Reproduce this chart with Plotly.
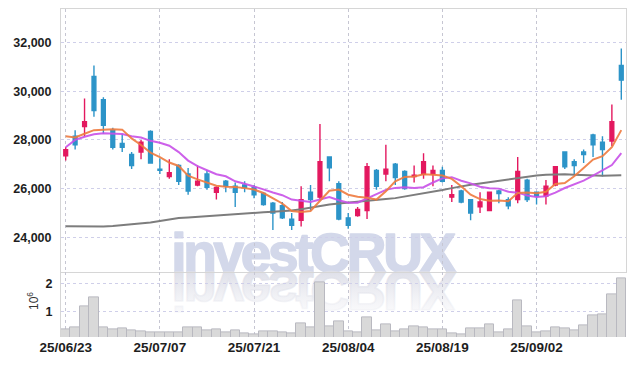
import base64
import plotly.graph_objects as go

# ---------------- data ----------------
dates = ["25/06/23", "25/06/24", "25/06/25", "25/06/26", "25/06/27", "25/06/30",
         "25/07/01", "25/07/02", "25/07/03", "25/07/04", "25/07/07", "25/07/08",
         "25/07/09", "25/07/10", "25/07/11", "25/07/14", "25/07/15", "25/07/16",
         "25/07/17", "25/07/18", "25/07/21", "25/07/22", "25/07/23", "25/07/24",
         "25/07/25", "25/07/28", "25/07/29", "25/07/30", "25/07/31", "25/08/01",
         "25/08/04", "25/08/05", "25/08/06", "25/08/07", "25/08/08", "25/08/11",
         "25/08/12", "25/08/13", "25/08/14", "25/08/18", "25/08/19", "25/08/20",
         "25/08/21", "25/08/22", "25/08/25", "25/08/26", "25/08/27", "25/08/28",
         "25/08/29", "25/09/01", "25/09/02", "25/09/03", "25/09/04", "25/09/05",
         "25/09/08", "25/09/09", "25/09/10", "25/09/11", "25/09/12", "25/09/15"]

open_ = [27350, 28150, 28550, 30600, 29650, 28400, 27850, 27400, 27500, 28350,
         26800, 26500, 26950, 26600, 26150, 26600, 25850, 26300, 26100, 26150,
         26050, 25800, 25400, 25300, 24750, 24700, 25850, 25650, 27300, 26200,
         24800, 24900, 25100, 26750, 26600, 27000, 26700, 26500, 26600, 26600,
         26750, 25650, 25900, 25550, 25250, 25100, 25900, 25550, 25550, 26350,
         25850, 25700, 26150, 27500, 27100, 27500, 28200, 27900, 27950, 31050]
high = [27700, 28400, 29700, 31050, 29750, 28500, 28250, 27500, 28000, 28400,
        27250, 27200, 27000, 26850, 26950, 26750, 26100, 26350, 26250, 26300,
        26150, 25850, 25450, 25450, 25000, 26100, 26150, 28650, 27300, 26300,
        25000, 25250, 27050, 26800, 27800, 27050, 26750, 26950, 27450, 26950,
        26900, 26150, 25950, 25550, 25850, 25850, 25950, 25650, 27300, 26400,
        25850, 26350, 26900, 27500, 27200, 27600, 28250, 28150, 29450, 31750]
low = [27150, 27600, 28150, 28950, 28250, 27600, 27500, 26800, 27200, 27050,
       26600, 26400, 26150, 25750, 26100, 25950, 25550, 25850, 25250, 25850,
       25600, 25300, 24300, 24750, 24300, 24450, 25100, 25550, 26300, 24700,
       24350, 24850, 24750, 25950, 26300, 26150, 25950, 26250, 26400, 26100,
       26250, 25450, 25400, 24700, 25000, 25100, 25400, 25150, 25400, 25450,
       25350, 25350, 26100, 26800, 26550, 27050, 27300, 26500, 27750, 29650]
close = [27600, 27800, 28750, 29200, 28600, 27700, 27700, 26950, 27900, 27050,
         26750, 26650, 26300, 25900, 26300, 26050, 26050, 26100, 25850, 26050,
         25750, 25350, 25000, 24800, 24500, 25550, 25550, 27100, 26850, 24750,
         24500, 25150, 26900, 26100, 26800, 26450, 26000, 26550, 27100, 26750,
         26300, 25750, 25450, 25000, 25450, 25850, 25800, 25300, 26700, 25550,
         25700, 26100, 26900, 26900, 26950, 27400, 27800, 27600, 28750, 30450]

ma5 = [28150, 28100, 28250, 28400, 28420, 28440, 28420, 28060, 27790, 27480,
       27290, 27070, 26930, 26530, 26380, 26240, 26120, 26080, 26070, 26020,
       25960, 25820, 25600, 25390, 25080, 25040, 25080, 25500, 25910, 25960,
       25750, 25670, 25630, 25550, 25890, 26300, 26480, 26500, 26590, 26570,
       26540, 26400, 26100, 25750, 25570, 25500, 25510, 25480, 25820, 25840,
       25810, 25870, 26190, 26230, 26510, 26850, 27190, 27330, 27700, 28400]
ma10 = [27700, 28000, 28130, 28230, 28270, 28270, 28240, 28150, 28100, 27960,
        27880, 27760, 27500, 27150, 26920, 26755, 26590, 26505, 26300, 26200,
        26100, 25970, 25840, 25730, 25550, 25500, 25450, 25550, 25650, 25520,
        25420, 25420, 25600, 25750, 25950, 26030, 26060, 26030, 26060, 26250,
        26420, 26470, 26325, 26215, 26080, 26020, 26000, 25875, 25835, 25715,
        25655, 25690, 25835, 26025, 26175, 26330, 26530, 26760, 26965, 27455]
ma_long = [24460, 24450, 24440, 24440, 24450, 24470, 24500, 24530, 24560, 24610,
           24670, 24740, 24790, 24820, 24850, 24880, 24900, 24930, 24950, 24980,
           25010, 25030, 25050, 25070, 25100, 25150, 25220, 25300, 25350, 25390,
           25420, 25460, 25500, 25530, 25570, 25610, 25670, 25740, 25800, 25870,
           25940, 26020, 26100, 26160, 26210, 26270, 26320, 26390, 26430, 26510,
           26540, 26570, 26580, 26590, 26570, 26550, 26530, 26530, 26540, 26550]

volume = [357000, 420000, 1180000, 1500000, 420000, 350000, 380000, 310000, 285000, 240000,
          240000, 240000, 240000, 420000, 440000, 320000, 350000, 240000, 300000, 200000,
          170000, 270000, 270000, 240000, 200000, 560000, 420000, 2050000, 470000, 650000,
          270000, 240000, 780000, 320000, 530000, 270000, 360000, 450000, 420000, 350000,
          360000, 200000, 170000, 390000, 380000, 540000, 250000, 360000, 1400000, 470000,
          250000, 285000, 420000, 390000, 320000, 500000, 860000, 900000, 1620000, 2190000]

price_ticks = [24000, 26000, 28000, 30000, 32000]
vol_ticks = [1, 2]
date_ticks = dates[::10]

# ---------------- style ----------------
RED = "#e3185f"
BLUE = "#2c94c8"
FONT = "Liberation Sans, Arial, sans-serif"
HGRID = "#cfcfe9"
VGRID = "#c6c6d2"
LINE = "#d6d6d6"
TICKFONT = dict(size=13, color="#1e1e1e", family=FONT, weight="bold")

fig = go.Figure()

fig.add_trace(go.Candlestick(
    x=dates, open=open_, high=high, low=low, close=close,
    increasing=dict(line=dict(color=RED, width=1.4), fillcolor=RED),
    decreasing=dict(line=dict(color=BLUE, width=1.4), fillcolor=BLUE),
    whiskerwidth=0, xaxis="x", yaxis="y", showlegend=False, hoverinfo="skip"))

fig.add_trace(go.Scatter(x=dates, y=ma_long, mode="lines", xaxis="x", yaxis="y",
                         line=dict(color="#7d7d7d", width=2), showlegend=False, hoverinfo="skip"))
fig.add_trace(go.Scatter(x=dates, y=ma10, mode="lines", xaxis="x", yaxis="y",
                         line=dict(color="rgba(200,80,232,0.9)", width=2), showlegend=False, hoverinfo="skip"))
fig.add_trace(go.Scatter(x=dates, y=ma5, mode="lines", xaxis="x", yaxis="y",
                         line=dict(color="rgba(238,122,62,0.9)", width=2), showlegend=False, hoverinfo="skip"))

fig.add_trace(go.Bar(x=dates, y=[v / 1e6 for v in volume], xaxis="x2", yaxis="y2",
                     marker=dict(color="#d9d9d9", line=dict(color="#b9b9c0", width=1)),
                     showlegend=False, hoverinfo="skip"))

# watermark with reflection (SVG)
TXT = ('x="1.3" y="47.3" font-family="Liberation Sans, Arial, sans-serif" font-weight="bold" '
       'font-size="55" textLength="285" lengthAdjust="spacing" stroke-width="1.6" '
       'stroke-linejoin="round"')
svg = (
    '<svg xmlns="http://www.w3.org/2000/svg" width="300" height="90" viewBox="0 0 300 90">'
    '<defs><linearGradient id="g" gradientUnits="userSpaceOnUse" x1="0" y1="7" x2="0" y2="47.3">'
    '<stop offset="0" stop-color="#e9eaf0" stop-opacity="0.25"/>'
    '<stop offset="1" stop-color="#dfe0e9" stop-opacity="1"/>'
    '</linearGradient></defs>'
    f'<text {TXT} fill="#d3d8ea" stroke="#d3d8ea">investCRUX</text>'
    '<g transform="translate(0,94.6) scale(1,-1)">'
    f'<text {TXT} fill="url(#g)" stroke="url(#g)">investCRUX</text>'
    '</g></svg>'
)
uri = "data:image/svg+xml;base64," + base64.b64encode(svg.encode()).decode()

W, H = 634, 366
L, R, T, B = 61, 8, 9, 29
pw, ph = W - L - R, H - T - B
split = 0.197

fig.update_layout(
    width=W, height=H,
    margin=dict(l=L, r=R, t=T, b=B),
    paper_bgcolor="white", plot_bgcolor="rgba(0,0,0,0)",
    font=dict(family=FONT, color="#222"),
    bargap=0, boxgap=0.42,
    images=[dict(source=uri, xref="paper", yref="paper",
                 x=(170 - L) / pw, y=(H - B - 225) / ph, sizex=300 / pw, sizey=90 / ph,
                 xanchor="left", yanchor="top", sizing="stretch", layer="below")],
    xaxis=dict(domain=[0, 1], anchor="y", type="category", range=[-0.5, 59.5],
               tickvals=date_ticks, showticklabels=False, ticks="",
               showgrid=True, gridcolor=VGRID, griddash="dot", gridwidth=1,
               showline=True, mirror=True, linecolor=LINE, linewidth=1,
               rangeslider=dict(visible=False), fixedrange=True),
    xaxis2=dict(domain=[0, 1], anchor="y2", type="category", range=[-0.5, 59.5],
                matches="x", tickvals=date_ticks, ticktext=date_ticks, ticks="",
                showgrid=True, gridcolor=VGRID, griddash="dot", gridwidth=1,
                showline=False, tickfont=dict(TICKFONT, size=13.5),
                tickangle=0),
    yaxis=dict(domain=[split, 1], anchor="x", range=[22563, 33370],
               tickvals=price_ticks, tickformat=",d", ticks="",
               ticklabelstandoff=6,
               showgrid=True, gridcolor=HGRID, griddash="dot", gridwidth=1,
               showline=True, mirror=True, linecolor=LINE, linewidth=1,
               zeroline=False, tickfont=dict(TICKFONT, size=12.5)),
    yaxis2=dict(domain=[0, split], anchor="x2", range=[0.08, 2.40],
                tickvals=vol_ticks, ticktext=["1", "2"], ticks="",
                ticklabelstandoff=5,
                showgrid=True, gridcolor=HGRID, griddash="dot", gridwidth=1,
                showline=True, linecolor=LINE, linewidth=1, zeroline=False,
                tickfont=dict(TICKFONT, size=12.5)),
    annotations=[dict(text="10<sup>6</sup>", xref="paper", yref="paper",
                      x=(33 - L) / pw, y=(H - B - 301) / ph, showarrow=False,
                      textangle=-90, font=dict(size=12, color="#333", family=FONT),
                      xanchor="center", yanchor="middle")],
)

fig.write_html("out.html", config={"displayModeBar": False},
               post_script="document.body.style.margin='0';document.body.style.overflow='hidden';")
